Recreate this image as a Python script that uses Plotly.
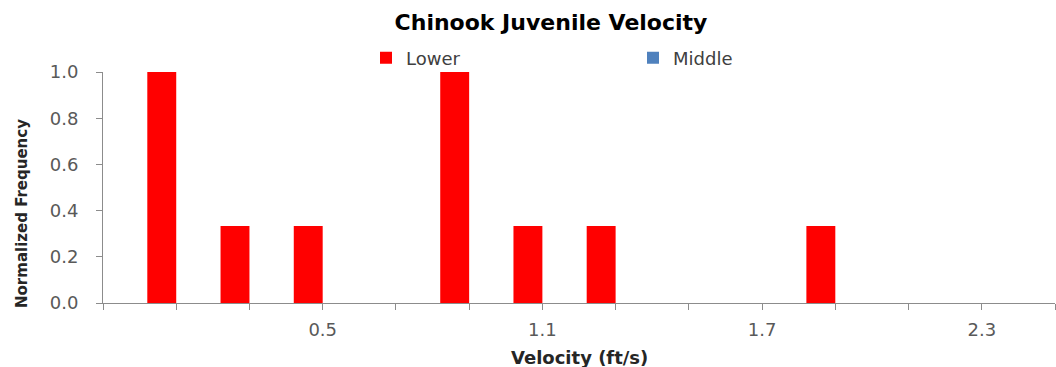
import plotly.graph_objects as go

# Velocity bins (ft/s) and normalized frequencies per reach
velocity_bins = [0.1, 0.3, 0.5, 0.7, 0.9, 1.1, 1.3, 1.5, 1.7, 1.9, 2.1, 2.3]
lower_freq = [1.0, 0.333, 0.333, 0.0, 1.0, 0.333, 0.333, 0.0, 0.0, 0.333, 0.0, 0.0]
middle_freq = [0.0, 0.0, 0.0, 0.0, 0.0, 0.0, 0.0, 0.0, 0.0, 0.0, 0.0, 0.0]

# Axis ticks
x_tick_marks = [-0.1, 0.1, 0.3, 0.5, 0.7, 0.9, 1.1, 1.3, 1.5, 1.7, 1.9, 2.1, 2.3, 2.5]
x_label_vals = [0.5, 1.1, 1.7, 2.3]
x_label_text = ["0.5", "1.1", "1.7", "2.3"]
y_tick_vals = [0.0, 0.2, 0.4, 0.6, 0.8, 1.0]
y_tick_text = ["0.0", "0.2", "0.4", "0.6", "0.8", "1.0"]

FONT = "DejaVu Sans"
GREY = "#595959"
AXIS = "#8c8c8c"

fig = go.Figure()
fig.add_trace(go.Bar(x=velocity_bins, y=lower_freq, name="Lower",
                     marker=dict(color="#ff0000", line=dict(width=0))))
fig.add_trace(go.Bar(x=velocity_bins, y=middle_freq, name="Middle",
                     marker=dict(color="#4f81bd", line=dict(width=0))))

fig.update_layout(
    width=1056, height=367,
    margin=dict(l=103, r=1, t=72, b=64, autoexpand=False),
    paper_bgcolor="white", plot_bgcolor="white",
    barmode="group", bargap=0.21, bargroupgap=0,
    font=dict(family=FONT, size=18, color=GREY),
    title=dict(text="<b>Chinook Juvenile Velocity</b>",
               x=551 / 1056, xanchor="center", xref="container",
               y=1 - 22 / 367, yanchor="middle", yref="container",
               font=dict(family=FONT, size=22, color="#000000")),
    legend=dict(orientation="h", xref="container", yref="container",
                x=366 / 1056, xanchor="left", y=1 - 58 / 367, yanchor="middle",
                entrywidth=222, entrywidthmode="pixels",
                font=dict(family=FONT, size=18, color="#404040"),
                bgcolor="rgba(0,0,0,0)"),
    showlegend=True,
)

fig.update_xaxes(
    range=[-0.1, 2.5], showgrid=False, zeroline=False,
    showline=True, linecolor=AXIS, linewidth=1,
    tickmode="array", tickvals=x_label_vals, ticktext=x_label_text,
    ticks="outside", ticklen=6, tickcolor=AXIS, ticklabelstandoff=4,
    tickfont=dict(family=FONT, size=18, color=GREY),
    minor=dict(tickmode="array", tickvals=x_tick_marks, ticks="outside",
               ticklen=6, tickcolor=AXIS, showgrid=False),
)
fig.update_yaxes(
    range=[0, 1.0], showgrid=False, zeroline=False,
    showline=True, linecolor=AXIS, linewidth=1,
    tickmode="array", tickvals=y_tick_vals, ticktext=y_tick_text,
    ticks="outside", ticklen=6, tickcolor=AXIS, ticklabelstandoff=14,
    tickfont=dict(family=FONT, size=18, color=GREY),
)

fig.add_annotation(text="<b>Normalized Frequency</b>", textangle=-90,
                   xref="paper", yref="paper", x=-81 / 952, y=(303 - 214) / 231,
                   xanchor="center", yanchor="middle", showarrow=False,
                   font=dict(family=FONT, size=15, color="#262626"))
fig.add_annotation(text="<b>Velocity (ft/s)</b>",
                   xref="paper", yref="paper", x=0.5, y=-(357 - 303) / 231,
                   xanchor="center", yanchor="middle", showarrow=False,
                   font=dict(family=FONT, size=18, color="#262626"))

fig.write_html("out.html")
